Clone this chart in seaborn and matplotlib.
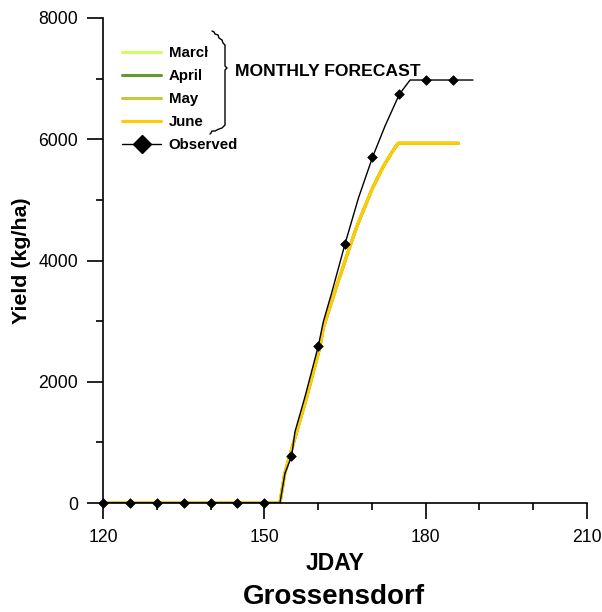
import matplotlib
matplotlib.use("Agg")
import matplotlib.pyplot as plt
from matplotlib.lines import Line2D
from matplotlib.ticker import MultipleLocator
from matplotlib.transforms import Bbox, TransformedBbox
import seaborn as sns
import pandas as pd

# ---- data ----
june_day = [120, 152.9, 153.8, 155.4, 157.9, 160.35, 161.0, 163.45, 165.9, 167.2, 169.96, 172.1, 174.0, 174.9, 186.1]
june_yield = [0, 0, 490, 985, 1753, 2578, 2900, 3580, 4229, 4560, 5163, 5547, 5823, 5933, 5933]
march_yield = list(june_yield)
april_yield = list(june_yield)
may_yield = list(june_yield)

sim_day = [120, 152.9, 153.84, 155.08, 155.7, 157.56, 160.04, 160.97, 162.5, 165.0,
           167.5, 170.15, 172.5, 175.1, 177.1, 188.8]
sim_yield = [0, 0, 490, 775, 1176, 1753, 2590, 2990, 3459, 4272,
             5030, 5712, 6230, 6741, 6977, 6977]

obs_day = [120, 125, 130, 135, 140, 145, 150, 155, 160, 165, 170, 175, 180, 185]
obs_yield = [0, 0, 0, 0, 0, 0, 0, 775, 2590, 4272, 5712, 6741, 6977, 6977]

series_names = ["March", "April", "May", "June"]
series_values = [march_yield, april_yield, may_yield, june_yield]
series_colors = ["#ccff66", "#669933", "#c8c83c", "#ffcc00"]

# ---- figure ----
sns.set_style("ticks")
plt.rcParams["font.family"] = ["Liberation Sans", "DejaVu Sans"]
for k in ["text.color", "axes.labelcolor", "xtick.color", "ytick.color", "axes.edgecolor"]:
    plt.rcParams[k] = "black"

W, H = 602.0, 612.0
fig = plt.figure(figsize=(W / 100, H / 100), dpi=100)
ax = fig.add_axes([103 / W, 1 - 503 / H, 484 / W, 485 / H])

for name, vals, col in zip(series_names, series_values, series_colors):
    df = pd.DataFrame({"day": june_day, "yield": vals})
    sns.lineplot(data=df, x="day", y="yield", ax=ax, color=col, lw=2.2, zorder=2)

sim_df = pd.DataFrame({"day": sim_day, "yield": sim_yield})
sns.lineplot(data=sim_df, x="day", y="yield", ax=ax, color="black", lw=1, zorder=3)
obs_df = pd.DataFrame({"day": obs_day, "yield": obs_yield})
sns.scatterplot(data=obs_df, x="day", y="yield", ax=ax, color="black", marker="D",
                s=24, edgecolor="black", linewidth=0.5, zorder=4, clip_on=False)

ax.set_xlim(120, 210)
ax.set_ylim(0, 8000)
ax.xaxis.set_major_locator(MultipleLocator(30))
ax.xaxis.set_minor_locator(MultipleLocator(10))
ax.yaxis.set_major_locator(MultipleLocator(2000))
ax.yaxis.set_minor_locator(MultipleLocator(1000))
ax.tick_params(which="major", direction="out", length=11.5, width=1.2, labelsize=12.7, pad=6.5)
ax.tick_params(which="minor", direction="out", length=5, width=1.2)
ax.tick_params(axis="x", which="major", pad=7)
sns.despine(ax=ax, top=True, right=True)
for s in ["left", "bottom"]:
    ax.spines[s].set_linewidth(1.2)

ax.set_xlabel("JDAY", fontsize=16.5, fontweight="bold")
ax.xaxis.label.set_verticalalignment("baseline")
ax.xaxis.set_label_coords((335.5 - 103) / 484, (503 - 570) / 485)
ax.set_ylabel("Yield (kg/ha)", fontsize=15.4, fontweight="bold")
ax.yaxis.label.set_verticalalignment("center")
ax.yaxis.set_label_coords((21.7 - 103) / 484, 0.5)
fig.text(334 / W, 1 - 604 / H, "Grossensdorf", fontsize=20, fontweight="bold", ha="center", va="baseline")

# legend
handles = [Line2D([0], [0], color=c, lw=2.2) for c in series_colors]
handles.append(Line2D([0], [0], color="black", lw=1, marker="D", markersize=9))
labels = series_names + ["Observed"]
leg = ax.legend(handles, labels, loc="upper left", bbox_to_anchor=(7 / 484, 1 - 16 / 485),
                frameon=False, handlelength=2.6, handletextpad=0.5, labelspacing=0.6,
                borderpad=0.3, prop={"weight": "bold", "size": 10.8})
clip = TransformedBbox(Bbox([[0, 0], [208 / W, 1]]), fig.transFigure)
march_text = leg.get_texts()[0]
march_text.set_clip_box(clip)
march_text.set_clip_on(True)

# bracket for monthly forecast
tr = fig.transFigure
bx = [212, 214, 215, 218, 219, 222, 223, 225, 225, 227, 225, 225, 222, 219, 215, 212, 211, 210]
by = [31, 32, 34, 35, 38, 40, 43, 45, 66, 68, 70, 125, 128, 129, 131, 131, 133, 134]
fig.add_artist(Line2D([x / W for x in bx], [1 - y / H for y in by], color="black", lw=1, transform=tr))
fig.text(235 / W, 1 - 72 / H, "MONTHLY FORECAST", fontsize=12.6, fontweight="bold", va="center", ha="left")

fig.savefig("out.png", dpi=100)
